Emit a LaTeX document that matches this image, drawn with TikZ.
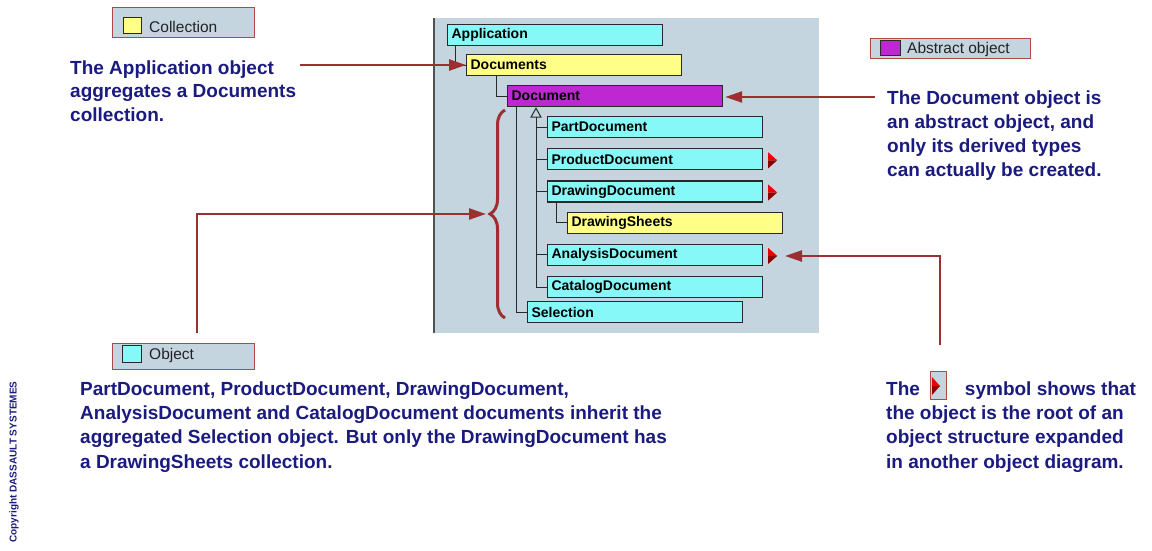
\documentclass[tikz,border=0pt]{standalone}
\usepackage{fontspec}
\setmainfont{Liberation Sans}
\usetikzlibrary{positioning, arrows.meta, calc, decorations.pathreplacing}

\definecolor{panelbg}{RGB}{197,213,224}
\definecolor{panelline}{RGB}{80,80,80}
\definecolor{boxline}{RGB}{40,40,40}
\definecolor{cyanobj}{RGB}{135,248,248}
\definecolor{yellowcoll}{RGB}{255,255,135}
\definecolor{purpleabs}{RGB}{190,40,210}
\definecolor{arrowred}{RGB}{156,48,48}
\definecolor{legred}{RGB}{176,72,72}
\definecolor{notenavy}{RGB}{26,26,128}
\definecolor{legtextc}{RGB}{34,34,34}
\definecolor{markred}{RGB}{235,0,0}
\definecolor{markdark}{RGB}{140,0,0}

\begin{document}
\begin{tikzpicture}[x=1pt, y=-1pt,
    every node/.style={font=\fontsize{14}{16}\selectfont\bfseries},
    obj/.style={rectangle, draw=boxline, line width=1.2pt, fill=cyanobj, minimum height=21pt, text width=207pt, inner xsep=4pt, inner ysep=2pt, align=left, anchor=north west},
    coll/.style={obj, fill=yellowcoll},
    abstr/.style={obj, fill=purpleabs},
    link/.style={draw=boxline, line width=1pt},
    arrow/.style={-{Triangle[length=17pt, width=11pt]}, line width=2.5pt, draw=arrowred},
    note/.style={anchor=base west, inner sep=0pt, align=left, text=notenavy, font=\fontsize{19}{23.5}\selectfont\bfseries},
    legbox/.style={rectangle, draw=legred, fill=panelbg, line width=1pt, anchor=north west, inner sep=0pt},
    swatch/.style={rectangle, draw=boxline, line width=1pt, anchor=north west, inner sep=0pt},
    legtext/.style={font=\fontsize{15.5}{18}\selectfont, text=legtextc, anchor=west, inner sep=0pt}]

  \useasboundingbox (0,0) rectangle (1152,550);

  % diagram panel
  \node[fill=panelbg, inner sep=0pt, minimum width=386pt, minimum height=315pt, anchor=north west] (panel) at (433,18) {};
  \draw[line width=2pt, draw=panelline] ([xshift=1pt]panel.north west) -- ([xshift=1pt]panel.south west);

  % object tree
  \node[obj] (app) at (447,24) {Application};
  \node[coll] (docs) at (466,54) {Documents};
  \node[abstr] (doc) at (507,85) {Document};
  \node[obj] (part) at (547,116) {PartDocument};
  \node[obj, below=10pt of part] (prod) {ProductDocument};
  \node[obj, below=10pt of prod] (drw) {DrawingDocument};
  \node[coll, below=9pt of drw, xshift=20pt] (sheets) {DrawingSheets};
  \node[obj, below=10pt of sheets, xshift=-20pt] (ana) {AnalysisDocument};
  \node[obj, below=10pt of ana] (cat) {CatalogDocument};
  \node[obj] (sel) at (527,301) {Selection};

  \draw[link] ([xshift=8pt]app.south west) |- (docs.west);
  \draw[link] ([xshift=30pt]docs.south west) |- (doc.west);
  \draw[link] ([xshift=9pt]doc.south west) |- (sel.west);
  \draw[link] ([xshift=9pt]drw.south west) |- (sheets.west);

  % inheritance
  \coordinate (inh) at ([xshift=29pt, yshift=-1pt]doc.south west);
  \draw[link, fill=panelbg] (inh) -- ++(5,9) -- ++(-10,0) -- cycle;
  \coordinate (inhb) at ($(inh)+(0,9)$);
  \foreach \n in {part, prod, drw, ana, cat}
    \draw[link] (inhb) |- (\n.west);

  % expand markers
  \foreach \n in {prod, drw, ana} {
    \fill[markred] ([xshift=5pt, yshift=-1pt]\n.east) ++(0,-8) -- ++(9,8) -- ++(-9,0) -- cycle;
    \fill[markdark] ([xshift=5pt, yshift=-1pt]\n.east) -- ++(9,0) -- ++(-9,8) -- cycle;
  }

  % brace
  \coordinate (bracebot) at (505,318);
  \coordinate (bracetop) at (505,110);
  \coordinate (bracetip) at (486,214);
  \draw[arrowred, line width=3pt, decorate, decoration={brace, amplitude=15pt}] (bracebot) -- (bracetop);

  % legends
  \node[legbox, minimum width=142pt, minimum height=30pt] (legcoll) at (112,7) {};
  \node[swatch, fill=yellowcoll, minimum width=18pt, minimum height=16pt] (swcoll) at (123,17) {};
  \node[legtext, right=7pt of swcoll, yshift=-1pt] (txcoll) {Collection};

  \node[legbox, minimum width=160pt, minimum height=20pt] (legabs) at (870,38) {};
  \node[swatch, fill=purpleabs, minimum width=20pt, minimum height=15pt] (swabs) at (880,40) {};
  \node[legtext, right=6pt of swabs, yshift=-1pt] (txabs) {Abstract object};

  \node[legbox, minimum width=142pt, minimum height=26pt] (legobj) at (112,343) {};
  \node[swatch, fill=cyanobj, minimum width=19pt, minimum height=17pt] (swobj) at (122,345) {};
  \node[legtext, right=7pt of swobj, yshift=-1pt] (txobj) {Object};

  % notes (anchored at the baseline of their last line)
  \node[note] (apptxt) at (70,121) {The Application object\\aggregates a Documents\\collection.};
  \node[note, font=\fontsize{19}{24}\selectfont\bfseries] (doctxt) at (887,176) {The Document object is\\an abstract object, and\\only its derived types\\can actually be created.};
  \node[note, font=\fontsize{19}{24.3}\selectfont\bfseries] (inhtxt) at (80,468) {PartDocument, ProductDocument, DrawingDocument,\\AnalysisDocument and CatalogDocument documents inherit the\\aggregated Selection object. But only the DrawingDocument has\\a DrawingSheets collection.};
  \node[note, font=\fontsize{19}{24.3}\selectfont\bfseries] (symtxt) at (886,468) {The\hspace*{45pt}symbol shows that\\the object is the root of an\\object structure expanded\\in another object diagram.};

  \node[legbox, minimum width=16pt, minimum height=28pt] (symicon) at (930,371) {};
  \fill[markred] (932,377) -- (940,386) -- (932,386) -- cycle;
  \fill[markdark] (932,386) -- (940,386) -- (932,395) -- cycle;

  \node[rotate=90, inner sep=0pt, text=notenavy, font=\fontsize{10}{11}\selectfont\bfseries] (copy) at (14,462) {Copyright DASSAULT SYSTEMES};

  % arrows
  \coordinate (appline) at (300,65);
  \coordinate (docline) at (875,97);
  \coordinate (objline) at (197,333);
  \coordinate (symline) at (940,345);
  \coordinate (symend) at (785,256);
  \draw[arrow] (appline) -- (appline -| docs.west);
  \draw[arrow] (docline) -- ([xshift=2pt]docline -| doc.east);
  \draw[arrow] (objline) |- (bracetip);
  \draw[arrow] (symline) |- (symend);
\end{tikzpicture}
\end{document}
